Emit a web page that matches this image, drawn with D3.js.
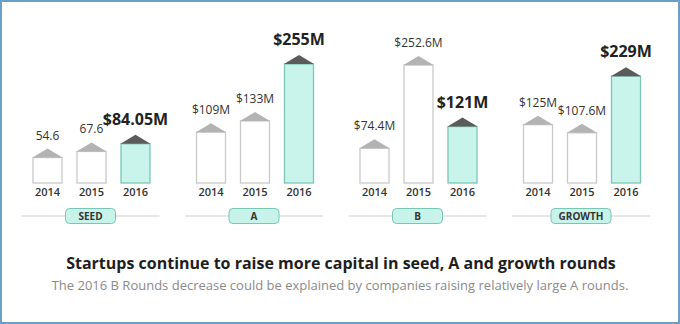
<!DOCTYPE html>
<html>
<head>
<meta charset="utf-8">
<script src="https://cdn.jsdelivr.net/npm/d3@7"></script>
<style>
  html, body { margin: 0; padding: 0; background: #fff; }
  svg { display: block; font-family: "Open Sans", "Noto Sans", sans-serif; }
</style>
</head>
<body>
<svg id="chart" width="680" height="324"></svg>
<script>
// Funding rounds and median raise per year (millions of USD)
const rounds = ["SEED", "A", "B", "GROWTH"];
const years = ["2014", "2015", "2016"];
const values2014 = [54.6, 109, 74.4, 125];
const values2015 = [67.6, 133, 252.6, 107.6];
const values2016 = [84.05, 255, 121, 229];
const labels2014 = ["54.6", "$109M", "$74.4M", "$125M"];
const labels2015 = ["67.6", "$133M", "$252.6M", "$107.6M"];
const labels2016 = ["$84.05M", "$255M", "$121M", "$229M"];

const title = "Startups continue to raise more capital in seed, A and growth rounds";
const subtitle = "The 2016 B Rounds decrease could be explained by companies raising relatively large A rounds.";

const W = 680, H = 324;
const svg = d3.select("#chart");

// frame
svg.append("rect")
  .attr("x", 1).attr("y", 1).attr("width", W - 2).attr("height", H - 2)
  .attr("fill", "#fff").attr("stroke", "#6d9ec9").attr("stroke-width", 2);

const baseY = 183;
const y = d3.scaleLinear().domain([0, 255]).range([baseY, 64]);

const xGroup = d3.scaleBand().domain(rounds).range([8.75, 662.75]);
const xYear = d3.scaleBand().domain(years).range([-58, 60]).paddingInner(0.318).paddingOuter(0);

const seriesValues = [values2014, values2015, values2016];
const seriesLabels = [labels2014, labels2015, labels2016];

const bars = [];
rounds.forEach((r, i) => {
  years.forEach((yr, j) => {
    bars.push({ round: r, year: yr, value: seriesValues[j][i], label: seriesLabels[j][i], latest: j === years.length - 1 });
  });
});

const groupCenter = r => xGroup(r) + xGroup.bandwidth() / 2;
const roofH = 9;

const g = svg.append("g");

// group baselines and round tags
const tag = g.selectAll("g.tag").data(rounds).join("g").attr("class", "tag")
  .attr("transform", r => `translate(${groupCenter(r)},216)`);
tag.append("line")
  .attr("x1", -69).attr("x2", 69)
  .attr("stroke", "#cfcfcf").attr("stroke-width", 1.2);
tag.append("rect")
  .attr("x", r => -(r.length > 4 ? 30 : 25)).attr("y", -7.5)
  .attr("width", r => r.length > 4 ? 60 : 50).attr("height", 15).attr("rx", 4)
  .attr("fill", "#c8f3ea").attr("stroke", "#79c6b4").attr("stroke-width", 1);
tag.append("text")
  .attr("text-anchor", "middle").attr("dy", "0.36em")
  .attr("font-size", 10).attr("font-weight", 700).attr("fill", "#333")
  .text(r => r);

// bars
const bar = g.selectAll("g.bar").data(bars).join("g").attr("class", "bar")
  .attr("transform", d => `translate(${groupCenter(d.round) + xYear(d.year)},0)`);
const bw = xYear.bandwidth();

bar.append("rect")
  .attr("x", 0.5).attr("y", d => y(d.value))
  .attr("width", bw - 1).attr("height", d => baseY - y(d.value))
  .attr("fill", d => d.latest ? "#c9f4ec" : "#fff")
  .attr("stroke", d => d.latest ? "#7cc5b5" : "#c9c9c9")
  .attr("stroke-width", 1.3);

bar.append("path")
  .attr("d", d => {
    const t = y(d.value);
    return `M0,${t}L${bw},${t}L${bw / 2},${t - roofH}Z`;
  })
  .attr("fill", d => d.latest ? "#5b5b5b" : "#b3b3b3");

bar.append("text")
  .attr("x", bw / 2).attr("y", d => y(d.value) - roofH - (d.latest ? 10 : 9))
  .attr("text-anchor", "middle")
  .attr("font-size", d => d.latest ? 16 : 12)
  .attr("font-weight", d => d.latest ? 700 : 400)
  .attr("fill", d => d.latest ? "#222" : "#333")
  .text(d => d.label);

bar.append("text")
  .attr("x", bw / 2).attr("y", 196)
  .attr("text-anchor", "middle")
  .attr("font-size", 11).attr("font-weight", 600).attr("fill", "#333")
  .text(d => d.year);

// caption
svg.append("text")
  .attr("x", 341).attr("y", 269)
  .attr("text-anchor", "middle")
  .attr("font-size", 16).attr("font-weight", 700).attr("fill", "#1e1e1e")
  .text(title);
svg.append("text")
  .attr("x", 340).attr("y", 290)
  .attr("text-anchor", "middle")
  .attr("font-size", 13).attr("fill", "#8a8a8a")
  .text(subtitle);
</script>
</body>
</html>
